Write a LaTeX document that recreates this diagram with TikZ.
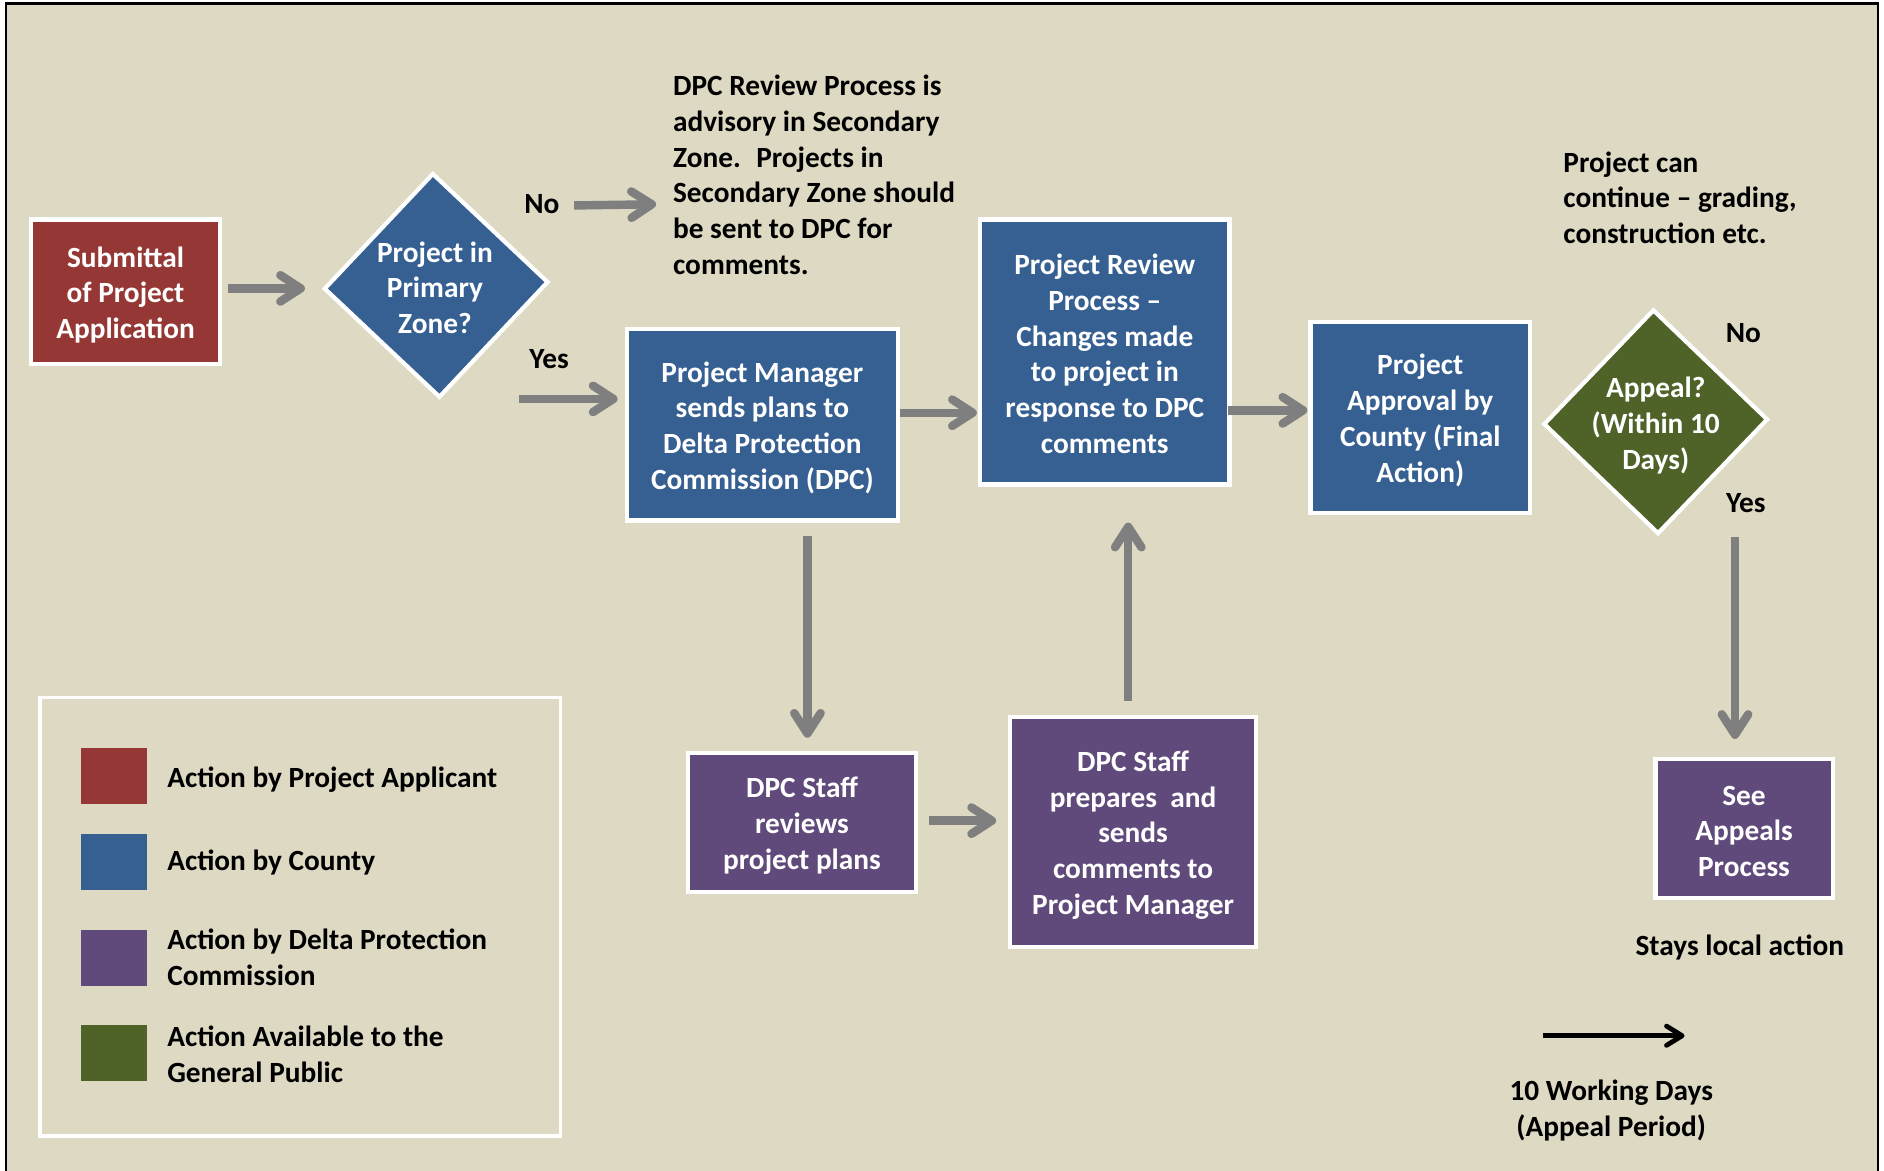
\documentclass[tikz,border=0pt]{standalone}
\usepackage{fontspec}
\setmainfont{Carlito}
\usetikzlibrary{arrows.meta,shapes.geometric,calc}
\definecolor{bg}{HTML}{DDD9C3}
\definecolor{cred}{HTML}{953735}
\definecolor{cblue}{HTML}{366092}
\definecolor{cpurple}{HTML}{604A7B}
\definecolor{cgreen}{HTML}{4F6228}
\definecolor{agray}{HTML}{7F7F7F}
\begin{document}
\begin{tikzpicture}[x=1pt,y=-1pt,
  every node/.style={font=\fontsize{24.4}{29.8}\selectfont\bfseries},
  box/.style={draw=white, line width=3.5pt, inner sep=0pt},
  dia/.style={diamond, draw=white, line width=3.5pt, inner sep=0pt, minimum width=187pt, minimum height=187pt},
  lbl/.style={inner sep=0pt, align=center},
  wlbl/.style={lbl, text=white},
  ltext/.style={inner sep=0pt, anchor=west, align=left},
  sw/.style={minimum width=55pt, minimum height=47pt, inner sep=0pt},
  arr/.style={draw=agray, line width=7pt, -{Straight Barb[length=17pt,width=22pt,round]}},
  blk/.style={draw=black, line width=4pt, -{Straight Barb[length=13pt,width=16pt,round]}}
]
\useasboundingbox (0,0) rectangle (1568,974);
\fill[white] (0,0) rectangle (1568,974);
\draw[black, line width=2pt, fill=bg] (5,3) rectangle (1563,990);

% boxes
\node[box, fill=cred, minimum width=157.5pt, minimum height=120.5pt] (sub) at (104.5,243) {};
\node[wlbl] (subt) at ($(sub.center)+(0,2.5)$) {Submittal\\of Project\\Application};
\node[dia, fill=cblue, rotate=1.7] (d1) at (363,237.5) {};
\node[wlbl] (d1t) at (362,239.5) {Project in\\Primary\\Zone?};
\node[box, fill=cblue, minimum width=225.5pt, minimum height=159.5pt] (pm) at (634.5,353.5) {};
\node[wlbl] (pmt) at ($(pm.center)+(0,2.5)$) {Project Manager\\sends plans to\\Delta Protection\\Commission (DPC)};
\node[box, fill=cblue, minimum width=207.5pt, minimum height=220.5pt] (rev) at (919.5,293) {};
\node[wlbl] (revt) at ($(rev.center)+(0,1.5)$) {Project Review\\Process –\\Changes made\\to project in\\response to DPC\\comments};
\node[box, fill=cblue, minimum width=182.5pt, minimum height=159.5pt] (apr) at (1182,347.5) {};
\node[wlbl] (aprt) at ($(apr.center)+(0,2.5)$) {Project\\Approval by\\County (Final\\Action)};
\node[dia, fill=cgreen, rotate=1.2] (d2) at (1378,351) {};
\node[wlbl] (d2t) at (1378,354) {Appeal?\\(Within 10\\Days)};
\node[box, fill=cpurple, minimum width=147.5pt, minimum height=115.5pt] (see) at (1451.5,689.5) {};
\node[wlbl] (seet) at ($(see.center)+(0,2.5)$) {See\\Appeals\\Process};
\node[box, fill=cpurple, minimum width=189.5pt, minimum height=115.5pt] (staff) at (667.5,684.5) {};
\node[wlbl] (stafft) at ($(staff.center)+(0,2.5)$) {DPC Staff\\reviews\\project plans};
\node[box, fill=cpurple, minimum width=204.5pt, minimum height=191.5pt] (prep) at (943,692.5) {};
\node[wlbl] (prept) at ($(prep.center)+(0,2.5)$) {DPC Staff\\prepares~ and\\sends\\comments to\\Project Manager};

% free texts
\node[ltext] (dpc) at (560,145.5) {DPC Review Process is\\advisory in Secondary\\Zone.~ Projects in\\Secondary Zone should\\be sent to DPC for\\comments.};
\node[ltext] (cont) at (1301,164.5) {Project can\\continue – grading,\\construction etc.};
\node[lbl] (no1) at (451,170) {No};
\node[lbl] (yes1) at (457,299) {Yes};
\node[lbl] (no2) at (1451,277) {No};
\node[lbl] (yes2) at (1453,419) {Yes};
\node[lbl] (stay) at (1448,788.5) {Stays local action};
\node[lbl] (wd) at (1341,924.5) {10 Working Days\\(Appeal Period)};

% legend
\node[draw=white, line width=3pt, minimum width=433pt, minimum height=365pt, inner sep=0pt] (leg) at (250,763) {};
\node[sw, fill=cred] (s1) at (94.5,646) {};
\node[sw, fill=cblue] (s2) at (94.5,717.5) {};
\node[sw, fill=cpurple] (s3) at (94.5,797.5) {};
\node[sw, fill=cgreen] (s4) at (94.5,876.5) {};
\node[ltext] (t1) at (139,649) {Action by Project Applicant};
\node[ltext] (t2) at (139,718) {Action by County};
\node[ltext] (t3) at (139,797) {Action by Delta Protection\\Commission};
\node[ltext] (t4) at (139,877.5) {Action Available to the\\General Public};

% arrows
\draw[arr] ($(sub.east)+(5,-3)$) -- ($(sub.east -| d1.west)+(-14,-3)$);
\draw[arr] ($(no1.east)+(12,1)$) -- ($(no1.east -| dpc.west)+(-14,0)$);
\draw[arr] ($(pm.west)+(-88,-21.5)$) -- ($(pm.west)+(-6,-21.5)$);
\draw[arr] ($(pm.east)+(0,-10)$) -- ($(pm.east -| rev.west)+(-1,-10)$);
\draw[arr] ($(apr.west -| rev.east)+(-3,-6)$) -- ($(apr.west)+(-1,-6)$);
\draw[arr] ($(see.north)+(-7.5,-183)$) -- ($(see.north)+(-7.5,-15)$);
\draw[arr] ($(staff.north |- pm.south)+(4.5,11)$) -- ($(staff.north)+(4.5,-11)$);
\draw[arr] ($(staff.east)+(9,-1.5)$) -- ($(staff.east -| prep.west)+(-10,-1.5)$);
\draw[arr] ($(prep.north)+(-4,-12)$) -- ($(prep.north |- rev.south)+(-4,30)$);
\coordinate (bk1) at (1284,862);
\coordinate (bk2) at (1402,862);
\draw[blk] (bk1) -- (bk2);
\end{tikzpicture}
\end{document}
